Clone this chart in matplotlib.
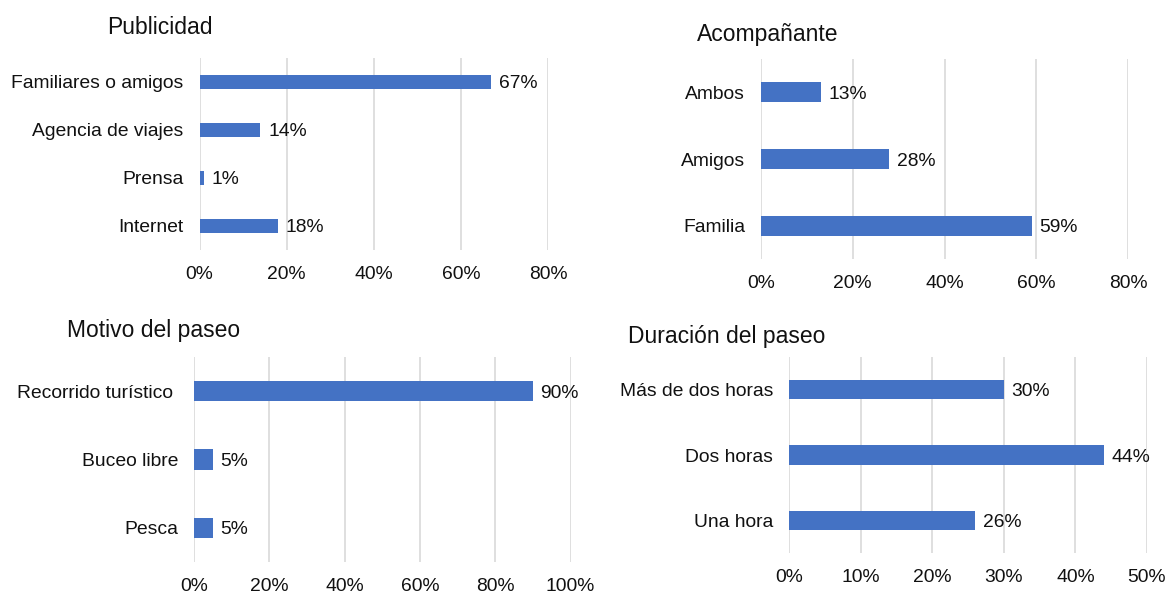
import matplotlib
matplotlib.use("Agg")
import matplotlib.pyplot as plt
from matplotlib.ticker import PercentFormatter

plt.rcParams['font.family'] = ['Liberation Sans', 'DejaVu Sans']

# datos (porcentajes), de arriba hacia abajo
pub_labels = ['Familiares o amigos', 'Agencia de viajes', 'Prensa', 'Internet']
pub_values = [67, 14, 1, 18]

acomp_labels = ['Ambos', 'Amigos', 'Familia']
acomp_values = [13, 28, 59]

# la etiqueta original trae un espacio al final
motivo_labels = ['Recorrido turístico ', 'Buceo libre', 'Pesca']
motivo_values = [90, 5, 5]

dur_labels = ['Más de dos horas', 'Dos horas', 'Una hora']
dur_values = [30, 44, 26]

BLUE = '#4472C4'
GRID = '#d9d9d9'
TXT = '#111111'
FS = 13.9

W, H = 1169, 594
fig = plt.figure(figsize=(W / 100, H / 100), dpi=100)


def px_axes(x0, x1, y0, y1):
    """axes a partir de coordenadas en pixeles (origen arriba a la izquierda)"""
    return fig.add_axes([x0 / W, 1 - y1 / H, (x1 - x0) / W, (y1 - y0) / H])


def bar_panel(ax, labels, values, xmax, step):
    n = len(labels)
    pos = list(range(n))
    ax.barh(pos, values, height=0.3, color=BLUE, zorder=3)
    ax.set_ylim(n - 0.5, -0.5)
    ax.set_yticks(pos)
    ax.set_yticklabels(labels)
    ax.set_xlim(0, xmax)
    ax.set_xticks(range(0, xmax + 1, step))
    ax.xaxis.set_major_formatter(PercentFormatter(decimals=0))
    ax.grid(axis='x', color=GRID, lw=1.2, zorder=0)
    for s in ax.spines.values():
        s.set_visible(False)
    ax.tick_params(axis='both', length=0, labelsize=FS, colors=TXT)
    ax.tick_params(axis='y', pad=11.5)
    ax.tick_params(axis='x', pad=11.5)
    for lab in ax.get_yticklabels():
        lab.set_verticalalignment('center_baseline')
    for p, v in zip(pos, values):
        ax.annotate(f'{v}%', (v, p), xytext=(5.5, 0), textcoords='offset points',
                    va='center_baseline', ha='left', fontsize=FS, color=TXT)


ax1 = px_axes(199.5, 548, 58, 250)
bar_panel(ax1, pub_labels, pub_values, 80, 20)

ax2 = px_axes(761, 1128, 59, 259)
bar_panel(ax2, acomp_labels, acomp_values, 80, 20)

ax3 = px_axes(194, 570.5, 357, 562)
bar_panel(ax3, motivo_labels, motivo_values, 100, 20)

ax4 = px_axes(789, 1147, 357, 553)
bar_panel(ax4, dur_labels, dur_values, 50, 10)

# titulos
titles = [('Publicidad', 107, 28), ('Acompañante', 697, 34),
          ('Motivo del paseo', 67, 330), ('Duración del paseo', 628, 336)]
for t, x, y in titles:
    fig.text(x / W, 1 - y / H, t, fontsize=16.5, color=TXT, ha='left', va='center')

fig.savefig('out.png', dpi=100)
